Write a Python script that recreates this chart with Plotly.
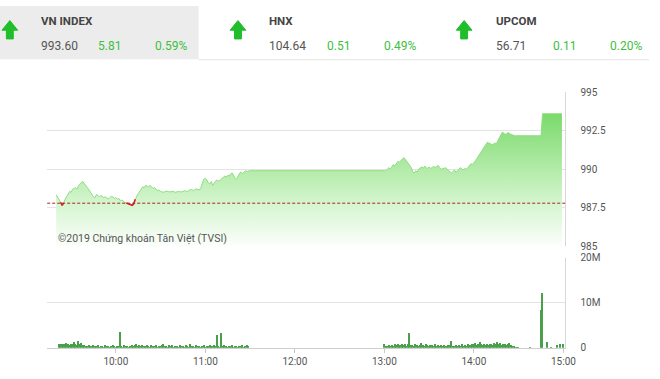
import plotly.graph_objects as go

DAY = "2019-01-01 "

# ---- header data ----
idx_names = ["VN INDEX", "HNX", "UPCOM"]
idx_values = ["993.60", "104.64", "56.71"]
idx_changes = ["5.81", "0.51", "0.11"]
idx_pcts = ["0.59%", "0.49%", "0.20%"]

close_value = 993.60
change_value = 5.81
ref_value = round(close_value - change_value, 2)

# ---- VN-Index intraday ----
price_times = [
    "09:20", "09:21", "09:22", "09:23", "09:24", "09:25", "09:26", "09:27", "09:28", "09:29",
    "09:30", "09:31", "09:32", "09:33", "09:34", "09:35", "09:36", "09:37", "09:38", "09:39",
    "09:40", "09:41", "09:42", "09:43", "09:44", "09:45", "09:46", "09:47", "09:48", "09:49",
    "09:50", "09:51", "09:52", "09:53", "09:54", "09:55", "09:56", "09:57", "09:58", "09:59",
    "10:00", "10:01", "10:02", "10:03", "10:04", "10:05", "10:06", "10:07", "10:08", "10:09",
    "10:10", "10:11", "10:12", "10:13", "10:14", "10:15", "10:16", "10:17", "10:18", "10:19",
    "10:20", "10:21", "10:22", "10:23", "10:24", "10:25", "10:26", "10:27", "10:28", "10:29",
    "10:30", "10:32", "10:34", "10:36", "10:38", "10:40", "10:42", "10:44", "10:46", "10:48",
    "10:50", "10:52", "10:54", "10:56", "10:57", "10:58", "10:59", "11:00", "11:01", "11:02",
    "11:03", "11:04", "11:05", "11:06", "11:07", "11:08", "11:09", "11:10", "11:11", "11:12",
    "11:13", "11:14", "11:15", "11:16", "11:17", "11:18", "11:19", "11:20", "11:21", "11:22",
    "11:23", "11:24", "11:25", "11:26", "11:27", "11:28", "11:29", "11:30",
    "13:00", "13:01", "13:02", "13:03", "13:04", "13:05", "13:06", "13:07", "13:08", "13:09",
    "13:10", "13:11", "13:12", "13:13", "13:14", "13:15", "13:16", "13:17", "13:18", "13:19",
    "13:20", "13:21", "13:22", "13:23", "13:24", "13:25", "13:26", "13:27", "13:28", "13:29",
    "13:30", "13:31", "13:32", "13:33", "13:34", "13:35", "13:36", "13:37", "13:38", "13:40",
    "13:41", "13:42", "13:43", "13:44", "13:45", "13:46", "13:47", "13:48", "13:49", "13:50",
    "13:51", "13:52", "13:53", "13:54", "13:55", "13:56", "13:57", "13:58", "13:59", "14:00",
    "14:01", "14:02", "14:03", "14:04", "14:05", "14:06", "14:07", "14:08", "14:09", "14:10",
    "14:11", "14:12", "14:13", "14:14", "14:15", "14:16", "14:17", "14:18", "14:19", "14:20",
    "14:21", "14:22", "14:23", "14:24", "14:25", "14:26", "14:27", "14:28", "14:29", "14:30",
    "14:45", "14:46", "14:59",
]
price_values = [
    988.35, 988.20, 988.05, 987.85, 987.65, 987.80, 988.05, 988.25, 988.45, 988.55,
    988.50, 988.70, 988.75, 988.80, 988.70, 988.95, 989.05, 989.10, 989.20, 989.05,
    988.95, 988.80, 988.65, 988.50, 988.35, 988.20, 988.15, 988.35, 988.30, 988.20,
    988.30, 988.25, 988.15, 988.20, 988.10, 988.05, 988.15, 988.25, 988.20, 988.10,
    988.15, 988.05, 988.10, 987.95, 988.00, 987.90, 987.85, 987.80, 987.75, 987.70,
    987.65, 987.65, 987.75, 988.05, 988.25, 988.40, 988.55, 988.70, 988.85, 988.80,
    988.95, 988.90, 988.85, 988.95, 988.85, 988.75, 988.80, 988.70, 988.60, 988.65,
    988.55, 988.50, 988.58, 988.52, 988.56, 988.50, 988.55, 988.52, 988.60, 988.55,
    988.68, 988.62, 988.72, 988.65, 988.80, 989.10, 989.35, 989.40, 989.30, 989.10,
    989.05, 989.20, 988.95, 989.10, 989.25, 989.30, 989.20, 989.30, 989.40, 989.45,
    989.55, 989.50, 989.60, 989.55, 989.70, 989.75, 989.60, 989.40, 989.35, 989.60,
    989.75, 989.80, 989.70, 989.82, 989.90, 989.85, 989.90, 989.90,
    989.90, 989.90, 990.00, 990.10, 990.00, 990.15, 990.30, 990.20, 990.40, 990.50,
    990.45, 990.55, 990.60, 990.75, 990.65, 990.50, 990.35, 990.25, 990.10, 989.85,
    989.75, 989.90, 989.80, 990.00, 990.05, 990.15, 990.05, 990.20, 990.10, 990.05,
    990.15, 990.05, 990.10, 990.20, 990.10, 990.15, 990.25, 990.10, 990.00, 990.05,
    990.10, 990.00, 989.90, 989.85, 989.75, 989.85, 989.95, 989.80, 989.90, 990.05,
    990.10, 990.00, 989.95, 990.05, 990.00, 990.10, 990.25, 990.35, 990.30, 990.40,
    990.55, 990.70, 990.85, 991.00, 991.10, 991.25, 991.45, 991.60, 991.75, 991.70,
    991.65, 991.60, 991.62, 991.70, 991.65, 991.85, 992.00, 992.20, 992.40, 992.35,
    992.25, 992.30, 992.40, 992.30, 992.25, 992.20, 992.18, 992.17, 992.17, 992.17,
    992.17, 993.60, 993.60,
]

# ---- volume (million shares per minute) ----
vol_morning_start = "09:22"
vol_morning = [
    0.9, 0.8, 1.0, 0.9, 0.8, 1.1, 0.9, 0.7, 1.0, 0.8,
    1.4, 1.0, 0.6, 1.5, 0.8, 1.2, 0.6, 0.7, 0.5, 0.4,
    0.6, 0.5, 0.4, 0.7, 0.5, 0.4, 0.6, 0.3, 0.5, 0.4,
    0.3, 0.6, 0.4, 0.5, 0.3, 0.4, 0.6, 0.5, 0.3, 0.4,
    0.5, 3.6, 0.4, 0.3, 0.6, 0.4, 0.5, 0.3, 0.4, 0.7,
    0.5, 0.6, 0.8, 0.5, 0.7, 0.4, 0.6, 0.5, 0.4, 0.6,
    0.5, 0.3, 0.7, 0.4, 0.5, 0.6, 0.3, 0.5, 0.4, 0.6,
    0.8, 0.4, 0.5, 0.3, 0.6, 0.4, 0.7, 0.3, 0.5, 0.4,
    0.3, 0.6, 0.4, 0.5, 0.3, 0.6, 0.4, 0.3, 0.9, 0.4,
    0.5, 0.3, 0.6, 0.4, 0.5, 0.3, 0.4, 0.6, 0.3, 0.5,
    0.4, 0.6, 0.3, 0.5, 0.7, 0.4, 2.8, 0.5, 0.3, 3.4,
    0.4, 0.6, 0.5, 0.3, 0.5, 0.4, 0.6, 0.3, 0.5, 0.4,
    0.3, 0.5, 0.4, 0.6, 0.3, 0.5, 0.7, 0.4,
]
vol_afternoon_start = "13:00"
vol_afternoon = [
    0.9, 0.4, 0.5, 0.6, 0.4, 0.7, 0.5, 0.8, 0.6, 0.9,
    0.5, 0.7, 0.9, 0.6, 1.0, 0.5, 0.8, 3.4, 0.6, 0.7,
    0.5, 0.8, 0.6, 0.4, 0.7, 1.1, 0.6, 0.5, 0.8, 0.6,
    0.5, 0.7, 0.6, 0.4, 0.8, 0.5, 0.6, 0.4, 0.7, 0.5,
    0.6, 0.4, 0.5, 0.7, 0.6, 1.5, 0.5, 0.4, 0.7, 0.5,
    0.6, 0.5, 0.8, 0.4, 0.6, 0.5, 0.9, 0.7, 0.6, 1.0,
    0.8, 1.1, 0.7, 0.9, 1.4, 0.8, 0.6, 1.0, 0.7, 0.9,
    0.6, 0.8, 1.0, 0.7, 1.2, 0.9, 1.3, 0.8, 1.1, 0.7,
    1.0, 0.8, 0.6, 0.9, 1.2, 0.7, 0.5, 0.4, 0.3, 0.2,
    0.1,
]
vol_late_times = ["14:38", "14:45", "14:46", "14:49", "14:52", "14:56", "14:58", "15:00"]
vol_late = [0.1, 8.4, 12.3, 1.3, 0.3, 0.6, 0.9, 0.9]

price_ticks = [985, 987.5, 990, 992.5, 995]
vol_ticks = [0, 10, 20]
vol_tick_labels = ["0", "10M", "20M"]
time_ticks = ["10:00", "11:00", "12:00", "13:00", "14:00", "15:00"]


def minute_seq(start, n):
    h, m = map(int, start.split(":"))
    out = []
    for i in range(n):
        t = h * 60 + m + i
        out.append(f"{t // 60:02d}:{t % 60:02d}")
    return out


px_times = [DAY + t for t in price_times]
vol_times = ([DAY + t for t in minute_seq(vol_morning_start, len(vol_morning))]
             + [DAY + t for t in minute_seq(vol_afternoon_start, len(vol_afternoon))]
             + [DAY + t for t in vol_late_times])
vol_values = vol_morning + vol_afternoon + vol_late

n = len(price_values)
below = []
for i, v in enumerate(price_values):
    near = v < ref_value or (i > 0 and price_values[i - 1] < ref_value) or (
        i < n - 1 and price_values[i + 1] < ref_value)
    below.append(v if near else None)

W, H = 660, 379


def pxf(x):
    return x / W


def pyf(y):
    return 1 - y / H


X0, X1 = 48, 575
fig = go.Figure()

fig.add_trace(go.Scatter(
    x=px_times, y=price_values, mode="lines", fill="tozeroy",
    line=dict(color="#8fdc83", width=1),
    fillgradient=dict(type="vertical", start=985, stop=993.6,
                      colorscale=[[0, "rgba(255,255,255,1)"], [0.35, "rgb(212,245,206)"],
                                  [1, "rgb(122,218,106)"]]),
    xaxis="x", yaxis="y", hoverinfo="skip", showlegend=False))

fig.add_trace(go.Scatter(
    x=px_times, y=below, mode="lines", connectgaps=False,
    line=dict(color="#d42020", width=1.6),
    xaxis="x", yaxis="y", hoverinfo="skip", showlegend=False))

fig.add_trace(go.Bar(
    x=vol_times, y=vol_values, width=50000,
    marker=dict(color="#4a9f4a", line=dict(width=0)),
    xaxis="x2", yaxis="y2", hoverinfo="skip", showlegend=False))

tickfont = dict(family="Roboto, Arial, sans-serif", size=10, color="#555555")
xrange = [DAY + "09:14", DAY + "15:01:20"]

fig.update_layout(
    width=W, height=H, margin=dict(l=0, r=0, t=0, b=0),
    paper_bgcolor="white", plot_bgcolor="white",
    xaxis=dict(domain=[pxf(X0), pxf(X1)], anchor="y", range=xrange, type="date",
               showticklabels=False, showgrid=False, zeroline=False, showline=False),
    yaxis=dict(domain=[pyf(248), pyf(89)], range=[985, 995], side="right",
               tickvals=price_ticks, ticktext=[f"{v:g}" for v in price_ticks],
               gridcolor="#e3e3e3", gridwidth=1, zeroline=False,
               showline=True, linecolor="#d8d8d8", linewidth=1,
               ticks="", ticklabelstandoff=12, tickfont=tickfont),
    xaxis2=dict(domain=[pxf(X0), pxf(X1)], anchor="y2", range=xrange, type="date",
                tickvals=[DAY + t for t in time_ticks], ticktext=time_ticks,
                showgrid=False, zeroline=False, showline=True, linecolor="#cfcfcf",
                ticks="outside", ticklen=4, tickcolor="#c8c8c8", tickfont=tickfont),
    yaxis2=dict(domain=[pyf(353), pyf(260)], range=[0, 20], side="right",
                tickvals=vol_ticks, ticktext=vol_tick_labels,
                gridcolor="#e3e3e3", zeroline=False,
                showline=True, linecolor="#d8d8d8", linewidth=1,
                ticks="", ticklabelstandoff=12, tickfont=tickfont),
    bargap=0,
)

shapes = [
    dict(type="rect", xref="paper", yref="paper", x0=0, x1=pxf(202), y0=pyf(55), y1=1,
         fillcolor="#ececec", line=dict(width=0), layer="below"),
    dict(type="line", xref="paper", yref="paper", x0=pxf(202), x1=1, y0=pyf(55.5), y1=pyf(55.5),
         line=dict(color="#e4e4e4", width=1)),
    dict(type="line", xref="x domain", yref="y", x0=0, x1=1, y0=ref_value, y1=ref_value,
         line=dict(color="rgb(165,40,30)", width=1, dash="3px,2px")),
]

header_x = [0, 232, 462]
label_dx = 40
annotations = []
hfont = "Roboto, Arial, sans-serif"
for k in range(3):
    bx = header_x[k]
    pts = [(2, 25), (10, 15), (18, 25), (13.5, 25), (13.5, 34), (6.5, 34), (6.5, 25)]
    path = "M " + " L ".join(f"{pxf(bx + a)},{pyf(b)}" for a, b in pts) + " Z"
    shapes.append(dict(type="path", xref="paper", yref="paper", path=path,
                       fillcolor="#1fbe2a", line=dict(color="#1fbe2a", width=1)))
    lx = bx + label_dx
    annotations.append(dict(text=idx_names[k], x=pxf(lx), y=pyf(16), xref="paper", yref="paper",
                            xanchor="left", yanchor="middle", showarrow=False,
                            font=dict(family=hfont, size=11.5, color="#444444", weight="bold")))
    annotations.append(dict(text=idx_values[k], x=pxf(lx), y=pyf(41), xref="paper", yref="paper",
                            xanchor="left", yanchor="middle", showarrow=False,
                            font=dict(family=hfont, size=12, color="#555555")))
    annotations.append(dict(text=idx_changes[k], x=pxf(lx + 58), y=pyf(41), xref="paper", yref="paper",
                            xanchor="left", yanchor="middle", showarrow=False,
                            font=dict(family=hfont, size=12, color="#3cbf3c")))
    annotations.append(dict(text=idx_pcts[k], x=pxf(lx + 116), y=pyf(41), xref="paper", yref="paper",
                            xanchor="left", yanchor="middle", showarrow=False,
                            font=dict(family=hfont, size=12, color="#3cbf3c")))

annotations.append(dict(text="©2019 Chứng khoán Tân Việt (TVSI)", x=pxf(57), y=pyf(240),
                        xref="paper", yref="paper", xanchor="left", yanchor="middle",
                        showarrow=False,
                        font=dict(family="Roboto, Arial, sans-serif", size=10.5, color="#555555")))

fig.update_layout(shapes=shapes, annotations=annotations)
fig.write_html("out.html", config={"displayModeBar": False},
               post_script="document.body.style.margin='0';document.body.style.overflow='hidden';")
